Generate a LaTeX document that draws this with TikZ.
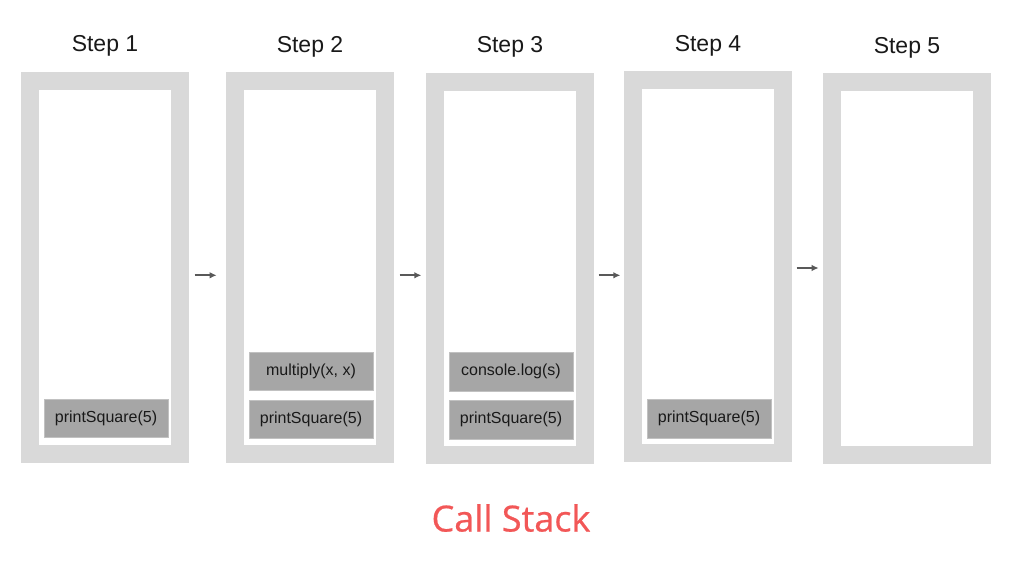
\documentclass[tikz,border=0pt]{standalone}
\usepackage{fontspec}
\setmainfont{Liberation Sans}
\newfontfamily\captionfont{Open Sans}[FakeBold=0.6]
\usetikzlibrary{arrows.meta}
\definecolor{framegray}{HTML}{D9D9D9}
\definecolor{callgray}{HTML}{A6A6A6}
\definecolor{arrowgray}{HTML}{595959}
\definecolor{stackred}{HTML}{F25757}
\begin{document}
\begin{tikzpicture}[x=1pt,y=1pt]
	\tikzstyle{stackframe} = [rectangle,draw=framegray,line width=18pt,fill=white,minimum width=150pt,minimum height=373pt,inner sep=0pt]
	\tikzstyle{call} = [rectangle,fill=callgray,draw=callgray!70!white,line width=0.6pt,minimum width=124pt,minimum height=38.5pt,inner sep=0pt,font=\fontsize{16}{18}\selectfont,text=black!90]
	\tikzstyle{steptitle} = [anchor=base,font=\fontsize{23}{26}\selectfont,text=black!90]
	\tikzstyle{next} = [-{Latex[length=7pt,width=6.5pt]},draw=arrowgray,line width=2.4pt]
	\useasboundingbox (0,0) rectangle (1015,-569);
	% the five frames
	\node[stackframe] (f1) at (105,-267.5) {};
	\node[stackframe] (f2) at (310,-267.5) {};
	\node[stackframe] (f3) at (510,-268.5) {};
	\node[stackframe] (f4) at (708,-266.5) {};
	\node[stackframe] (f5) at (907,-268.7) {};
	\node[steptitle] (t1) at (105,-51.7) {Step 1};
	\node[steptitle] (t2) at (310,-52.3) {Step 2};
	\node[steptitle] (t3) at (510,-53) {Step 3};
	\node[steptitle] (t4) at (708,-51.7) {Step 4};
	\node[steptitle] (t5) at (907,-53.3) {Step 5};
	% calls on the stack
	\node[call] (c1) at (106,-418.5) {printSquare(5)};
	\node[call] (c2a) at (311,-419.5) {printSquare(5)};
	\node[call] (c2b) at (311,-371.5) {multiply(x, x)};
	\node[call] (c3a) at (511,-419.7) {printSquare(5)};
	\node[call] (c3b) at (511,-371.7) {console.log(s)};
	\node[call] (c4) at (709,-418.7) {printSquare(5)};
	% arrows between steps
	\draw[next,shorten <=5.7pt,shorten >=9.3pt] ([yshift=-7.8pt]f1.east) -- ([yshift=-7.8pt]f2.west);
	\draw[next,shorten <=5.7pt,shorten >=4.6pt] ([yshift=-7.8pt]f2.east) -- ([yshift=-6.8pt]f3.west);
	\draw[next,shorten <=4.7pt,shorten >=3.6pt] ([yshift=-6.8pt]f3.east) -- ([yshift=-8.8pt]f4.west);
	\draw[next,shorten <=4.7pt,shorten >=4.3pt] ([yshift=-1.5pt]f4.east) -- ([yshift=0.7pt]f5.west);
	\node[text=stackred,font=\captionfont\fontsize{36}{40}\selectfont] (cs) at (511,-518) {Call Stack};
\end{tikzpicture}
\end{document}
